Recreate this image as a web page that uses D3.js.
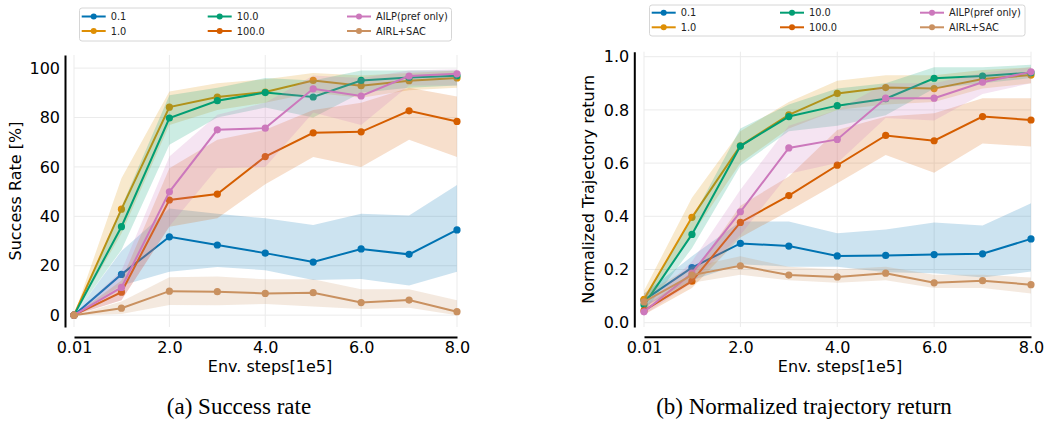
<!DOCTYPE html>
<html>
<head>
<meta charset="utf-8">
<script src="https://cdn.jsdelivr.net/npm/d3@7"></script>
<style>
  html, body { margin: 0; padding: 0; background: #ffffff; }
  svg { display: block; }
  .tick text { font-family: "DejaVu Sans", sans-serif; }
</style>
</head>
<body>
<svg id="fig" width="1046" height="421"></svg>
<script>
// ---- data -------------------------------------------------------------
const steps = [0.01, 1, 2, 3, 4, 5, 6, 7, 8];
const seriesNames = ["0.1", "1.0", "10.0", "100.0", "AILP(pref only)", "AIRL+SAC"];

const xTickValues = [0.01, 2, 4, 6, 8];
const xTickLabels = ["0.01", "2.0", "4.0", "6.0", "8.0"];
const successTicks = [0, 20, 40, 60, 80, 100];
const returnTicks = [0.0, 0.2, 0.4, 0.6, 0.8, 1.0];

// success rate [%]: mean, lower and upper edge of the shaded band
const successMean = [
  [0, 16.5, 31.7, 28.4, 25.1, 21.5, 26.8, 24.6, 34.5],
  [0, 42.9, 84.2, 88.3, 90.3, 95.0, 92.9, 94.9, 96.0],
  [0, 35.8, 79.8, 86.8, 90.1, 88.3, 95.0, 96.2, 96.9],
  [0, 9.3, 46.6, 49.0, 64.2, 73.8, 74.2, 82.7, 78.4],
  [0, 11.2, 49.9, 75.0, 75.7, 91.6, 88.7, 96.8, 97.7],
  [0, 2.8, 9.7, 9.5, 8.8, 9.1, 5.1, 6.1, 1.4]
];
const successLow = [
  [0, 12, 17.6, 19.5, 18.2, 14.2, 14.6, 12.0, 17.6],
  [0, 33, 77, 83, 86, 90, 88, 91, 92],
  [0, 26.4, 69, 80, 84, 80, 90, 92, 93],
  [0, 6, 35.8, 39.2, 53, 64, 60, 71, 64],
  [0, 6, 36, 59.5, 60, 82, 77, 93, 93],
  [0, 0.5, 4.1, 4.0, 4.5, 3.5, 2.5, 3.0, 0]
];
const successHigh = [
  [0, 26, 43.2, 41, 39.2, 36.5, 41, 40.3, 52.7],
  [0, 55.4, 90.5, 93.9, 95.5, 98, 97, 98, 99],
  [0, 43.9, 89, 92, 96, 95, 99, 99, 99],
  [0, 14, 59.5, 71, 75, 83, 86, 92, 88.5],
  [0, 18, 64.2, 81.1, 86, 97, 96, 99, 99.5],
  [0, 5.5, 15.3, 15.6, 14.5, 14.5, 10.5, 10.5, 6]
];

// normalized trajectory return: mean, lower and upper edge of the shaded band
const returnMean = [
  [0.085, 0.207, 0.298, 0.288, 0.251, 0.253, 0.256, 0.259, 0.315],
  [0.088, 0.396, 0.665, 0.781, 0.862, 0.884, 0.880, 0.916, 0.931],
  [0.067, 0.332, 0.664, 0.775, 0.816, 0.842, 0.919, 0.927, 0.940],
  [0.045, 0.156, 0.377, 0.478, 0.592, 0.704, 0.684, 0.775, 0.762],
  [0.041, 0.186, 0.417, 0.657, 0.689, 0.844, 0.844, 0.904, 0.943],
  [0.078, 0.179, 0.214, 0.179, 0.172, 0.186, 0.150, 0.158, 0.143]
];
const returnLow = [
  [0.06, 0.16, 0.22, 0.21, 0.21, 0.19, 0.186, 0.17, 0.192],
  [0.06, 0.33, 0.60, 0.73, 0.80, 0.82, 0.83, 0.88, 0.90],
  [0.04, 0.28, 0.59, 0.72, 0.74, 0.78, 0.88, 0.90, 0.92],
  [0.03, 0.13, 0.32, 0.42, 0.524, 0.63, 0.564, 0.674, 0.662],
  [0.03, 0.15, 0.33, 0.56, 0.60, 0.77, 0.76, 0.86, 0.90],
  [0.06, 0.15, 0.18, 0.16, 0.15, 0.16, 0.13, 0.13, 0.11]
];
const returnHigh = [
  [0.11, 0.25, 0.38, 0.38, 0.336, 0.35, 0.377, 0.365, 0.449],
  [0.12, 0.47, 0.72, 0.83, 0.91, 0.93, 0.93, 0.95, 0.96],
  [0.09, 0.39, 0.73, 0.82, 0.88, 0.90, 0.96, 0.96, 0.97],
  [0.06, 0.18, 0.44, 0.55, 0.724, 0.775, 0.787, 0.844, 0.844],
  [0.06, 0.23, 0.50, 0.74, 0.80, 0.90, 0.90, 0.94, 0.96],
  [0.11, 0.21, 0.25, 0.21, 0.20, 0.21, 0.18, 0.18, 0.17]
];

// ---- styling -------------------------------------------------------------
const palette = ["#0173b2", "#de8f05", "#029e73", "#d55e00", "#cc78bc", "#ca9161"];
const sans = "'DejaVu Sans', sans-serif";
const serif = "'Liberation Serif', 'Times New Roman', serif";

const svg = d3.select("#fig");

function drawPanel(cfg) {
  const g = svg.append("g");
  const x = d3.scaleLinear().domain([0.01, 8]).range([cfg.left, cfg.right]);
  const y = d3.scaleLinear().domain(cfg.yDomain).range([cfg.bottom, cfg.top]);

  // light grid
  const grid = g.append("g").attr("stroke", "#ebebeb").attr("stroke-width", 1);
  grid.selectAll("line.h").data(cfg.yTicks).join("line")
    .attr("x1", cfg.left).attr("x2", cfg.right)
    .attr("y1", d => y(d)).attr("y2", d => y(d));
  grid.selectAll("line.v").data(xTickValues).join("line")
    .attr("x1", d => x(d)).attr("x2", d => x(d))
    .attr("y1", cfg.top).attr("y2", cfg.bottom);

  // series: line with markers, then the shaded band
  const area = d3.area()
    .x((d, i) => x(steps[i]))
    .y0((d, i) => y(d[0]))
    .y1((d, i) => y(d[1]));
  const line = d3.line().x((d, i) => x(steps[i])).y(d => y(d));

  seriesNames.forEach((name, s) => {
    const col = palette[s];
    const mean = cfg.mean[s];
    const band = cfg.low[s].map((lo, i) => [lo, cfg.high[s][i]]);
    g.append("path").datum(mean)
      .attr("d", line).attr("fill", "none")
      .attr("stroke", col).attr("stroke-width", 2);
    g.append("g").selectAll("circle").data(mean).join("circle")
      .attr("cx", (d, i) => x(steps[i])).attr("cy", d => y(d))
      .attr("r", 3.6).attr("fill", col);
    g.append("path").datum(band)
      .attr("d", area).attr("fill", col).attr("fill-opacity", 0.2)
      .attr("stroke", "none");
  });

  // detached spines as axes
  const yAxis = d3.axisLeft(y).tickValues(cfg.yTicks).tickFormat(cfg.yFormat)
    .tickSize(0).tickPadding(5);
  const ya = g.append("g").attr("transform", `translate(${cfg.spineX},0)`).call(yAxis);
  ya.select(".domain").attr("stroke", "#000").attr("stroke-width", 2);
  ya.selectAll("text").attr("font-size", 16).attr("fill", "#000");

  const xAxis = d3.axisBottom(x).tickValues(xTickValues)
    .tickFormat((d, i) => xTickLabels[i]).tickSize(0).tickPadding(5);
  const xa = g.append("g").attr("transform", `translate(0,${cfg.spineY})`).call(xAxis);
  xa.select(".domain").attr("stroke", "#000").attr("stroke-width", 2);
  xa.selectAll("text").attr("font-size", 16).attr("fill", "#000");

  // axis titles
  g.append("text").attr("x", cfg.xLabelX).attr("y", 372)
    .attr("text-anchor", "middle").attr("font-family", sans).attr("font-size", 16)
    .text("Env. steps[1e5]");
  g.append("text")
    .attr("transform", `translate(${cfg.yLabelX},${(cfg.top + cfg.bottom) / 2}) rotate(-90)`)
    .attr("text-anchor", "middle").attr("font-family", sans).attr("font-size", 16)
    .text(cfg.yLabel);

  // legend
  const lg = g.append("g");
  lg.append("rect").attr("x", cfg.legend.x).attr("y", cfg.legend.y)
    .attr("width", cfg.legend.w).attr("height", cfg.legend.h)
    .attr("rx", 2.5).attr("fill", "#fff").attr("stroke", "#d6d6d6").attr("stroke-width", 1);
  seriesNames.forEach((name, s) => {
    const col = Math.floor(s / 2), row = s % 2;
    const tx = cfg.legend.textX[col];
    const ty = cfg.legend.rowY[row];
    lg.append("line").attr("x1", tx - 29).attr("x2", tx - 5)
      .attr("y1", ty).attr("y2", ty)
      .attr("stroke", palette[s]).attr("stroke-width", 2);
    lg.append("circle").attr("cx", tx - 17).attr("cy", ty).attr("r", 3)
      .attr("fill", palette[s]);
    lg.append("text").attr("x", tx).attr("y", ty).attr("dy", "0.36em")
      .attr("font-family", sans).attr("font-size", 9.8).attr("fill", "#222")
      .text(name);
  });

  // caption
  g.append("text").attr("x", cfg.captionX).attr("y", 414)
    .attr("text-anchor", "middle").attr("font-family", serif).attr("font-size", 23)
    .text(cfg.caption);
}

drawPanel({
  left: 74, right: 457, top: 55, bottom: 327,
  spineX: 65, spineY: 337,
  yDomain: [-4.8, 105.3], yTicks: successTicks, yFormat: d3.format("d"),
  mean: successMean, low: successLow, high: successHigh,
  yLabel: "Success Rate [%]", yLabelX: 21, xLabelX: 270,
  legend: { x: 79.5, y: 8, w: 372, h: 33, textX: [110.7, 236.7, 376], rowY: [16.5, 31] },
  caption: "(a) Success rate", captionX: 239
});

drawPanel({
  left: 644, right: 1031, top: 51.7, bottom: 327,
  spineX: 634.3, spineY: 336.7,
  yDomain: [-0.0162, 1.0188], yTicks: returnTicks, yFormat: d3.format(".1f"),
  mean: returnMean, low: returnLow, high: returnHigh,
  yLabel: "Normalized Trajectory return", yLabelX: 594, xLabelX: 840,
  legend: { x: 649.5, y: 5, w: 375.5, h: 31, textX: [680.7, 809, 949], rowY: [12.7, 27.3] },
  caption: "(b) Normalized trajectory return", captionX: 804
});
</script>
</body>
</html>
